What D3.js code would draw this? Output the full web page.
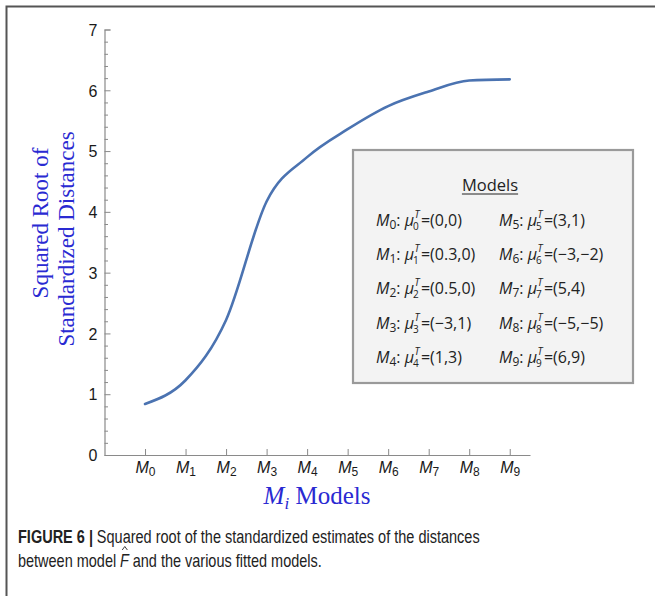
<!DOCTYPE html>
<html><head><meta charset="utf-8">
<script src="https://cdn.jsdelivr.net/npm/d3@7"></script>
<style>body{margin:0;background:#fff}svg{display:block}</style>
</head><body>
<svg id="c" width="655" height="596"></svg>
<script>
const categories = ["0","1","2","3","4","5","6","7","8","9"];
const values = [0.84, 1.23, 2.22, 4.17, 4.9, 5.36, 5.74, 5.98, 6.16, 6.18];
const yTicks = [0,1,2,3,4,5,6,7];
const legendLeft = [["0","(0,0)"],["1","(0.3,0)"],["2","(0.5,0)"],["3","(\u22123,1)"],["4","(1,3)"]];
const legendRight = [["5","(3,1)"],["6","(\u22123,\u22122)"],["7","(5,4)"],["8","(\u22125,\u22125)"],["9","(6,9)"]];

const svg = d3.select("#c");
const blue = "#2a2ad2", axisCol = "#8a8a8a", lineCol = "#4b73b1";
const sans = "'Liberation Sans', Arial, sans-serif";
const serif = "'Liberation Serif', 'Times New Roman', serif";
const legFont = "'Open Sans', 'Noto Sans', sans-serif";

// frame
svg.append("path").attr("d","M6.5,596 L6.5,6.5 L655,6.5").attr("fill","none").attr("stroke","#555").attr("stroke-width",2);

const x = d3.scaleLinear().domain([-1, 9.5]).range([104.5, 530]);
const y = d3.scaleLinear().domain([0, 7]).range([455, 29.5]);

// y axis
const minor = d3.range(0, 7.001, 0.2).filter(v => Math.abs(v - Math.round(v)) > 1e-6);
const gym = svg.append("g").attr("transform","translate(104.5,0)");
gym.call(d3.axisLeft(y).tickValues(minor).tickSize(-3.5).tickFormat(""));
gym.select(".domain").remove();
gym.selectAll(".tick text").remove();
gym.selectAll(".tick line").attr("stroke",axisCol);
const gy = svg.append("g").attr("transform","translate(104.5,0)");
gy.call(d3.axisLeft(y).tickValues(yTicks).tickSize(-6).tickFormat(""));
gy.select(".domain").attr("stroke",axisCol).attr("stroke-width",1.2);
gy.selectAll(".tick line").attr("stroke",axisCol);
gy.selectAll(".tick text").remove();
gy.selectAll(".tick").append("text").attr("x",-7).attr("dy","0.36em").attr("text-anchor","end")
  .attr("font-family",sans).attr("font-size",16).attr("fill","#1a1a1a").text(d=>d3.format("d")(d));

// x axis
const gx = svg.append("g").attr("transform","translate(0,455)");
gx.call(d3.axisBottom(x).tickValues(d3.range(categories.length)).tickSize(-6).tickSizeOuter(0).tickFormat(""));
gx.select(".domain").attr("stroke",axisCol).attr("stroke-width",1.2);
gx.selectAll(".tick line").attr("stroke",axisCol);
gx.selectAll(".tick text").remove();
gx.selectAll(".tick").each(function(d){
  const t = d3.select(this).append("text").attr("text-anchor","middle").attr("font-family",sans).attr("fill","#1a1a1a").attr("y",18);
  t.append("tspan").attr("font-style","italic").attr("font-size",16).text("M");
  t.append("tspan").attr("font-size",12).attr("dy",3).text(categories[d]);
});

// line
const line = d3.line().x((d,i)=>x(i)).y(d=>y(d)).curve(d3.curveMonotoneX);
svg.append("path").datum(values).attr("d",line).attr("fill","none").attr("stroke",lineCol).attr("stroke-width",2.6).attr("stroke-linecap","round");

// y title
svg.append("text").attr("transform","translate(48,223) rotate(-90)").attr("text-anchor","middle")
  .attr("font-family",serif).attr("font-size",23).attr("fill",blue).text("Squared Root of");
svg.append("text").attr("transform","translate(73.5,239) rotate(-90)").attr("text-anchor","middle")
  .attr("font-family",serif).attr("font-size",23).attr("fill",blue).text("Standardized Distances");

// x title
const xt = svg.append("text").attr("x",317).attr("y",504).attr("text-anchor","middle").attr("font-family",serif).attr("font-size",25).attr("fill",blue);
xt.append("tspan").attr("font-style","italic").text("M");
xt.append("tspan").attr("font-style","italic").attr("font-size",17).attr("dy",5).text("i");
xt.append("tspan").attr("dy",-5).text("\u00A0Models");

// legend
svg.append("rect").attr("x",353).attr("y",150).attr("width",280).attr("height",233).attr("fill","#f3f3f3").attr("stroke","#9a9a9a").attr("stroke-width",2.2);
const hdr = svg.append("text").attr("x",490).attr("y",191).attr("text-anchor","middle").attr("font-family",legFont).attr("font-size",16.5).attr("fill","#222").text("Models");
const hw = hdr.node().getComputedTextLength();
svg.append("line").attr("x1",490-hw/2).attr("x2",490+hw/2).attr("y1",194).attr("y2",194).attr("stroke","#222").attr("stroke-width",1.2);

function legendItem(x0, yb, item){
  const g = svg.append("g");
  const t1 = g.append("text").attr("x",x0).attr("y",yb).attr("font-family",legFont).attr("font-size",16).attr("fill","#222");
  t1.append("tspan").attr("font-style","italic").text("M");
  t1.append("tspan").attr("font-size",12).attr("dy",3).text(item[0]);
  t1.append("tspan").attr("dy",-3).text(":\u00A0");
  t1.append("tspan").attr("font-style","italic").text("\u03BC");
  const w1 = t1.node().getComputedTextLength();
  g.append("text").attr("x",x0+w1+0.5).attr("y",yb-8).attr("font-family",legFont).attr("font-size",10).attr("font-style","italic").attr("fill","#222").text("T");
  g.append("text").attr("x",x0+w1-1).attr("y",yb+4).attr("font-family",legFont).attr("font-size",10).attr("fill","#222").text(item[0]);
  g.append("text").attr("x",x0+w1+7).attr("y",yb).attr("font-family",legFont).attr("font-size",16).attr("fill","#222").text("="+item[1]);
}
const rowsY = [226, 260, 294, 329, 363];
legendLeft.forEach((it,i)=>legendItem(376, rowsY[i], it));
legendRight.forEach((it,i)=>legendItem(499, rowsY[i], it));

// caption line 1
const cg1 = svg.append("g");
const b1 = cg1.append("text").attr("x",0).attr("y",543).attr("font-family",sans).attr("font-size",19).attr("font-weight","bold").attr("fill","#222").text("FIGURE 6 |");
const wb = b1.node().getComputedTextLength() + 5;
const r1 = cg1.append("text").attr("x",wb).attr("y",543).attr("font-family",sans).attr("font-size",19).attr("fill","#222").text("Squared root of the standardized estimates of the distances");
const wl1 = wb + r1.node().getComputedTextLength();
cg1.attr("transform",`translate(18,0) scale(${462/wl1},1)`);

// caption line 2
const cg = svg.append("g");
const p1 = cg.append("text").attr("x",0).attr("y",567).attr("font-family",sans).attr("font-size",19).attr("fill","#222").text("between model");
const w1 = p1.node().getComputedTextLength() + 5;
const pf = cg.append("text").attr("x",w1).attr("y",567).attr("font-family",sans).attr("font-size",19).attr("font-style","italic").attr("fill","#222").text("F");
const wf = pf.node().getComputedTextLength() + 5;
const p3 = cg.append("text").attr("x",w1+wf).attr("y",567).attr("font-family",sans).attr("font-size",19).attr("fill","#222").text("and the various fitted models.");
const wTot = w1 + wf + p3.node().getComputedTextLength();
cg.append("path").attr("d",`M${w1+2.8},550 L${w1+6.2},546.5 L${w1+9.6},550`).attr("fill","none").attr("stroke","#222").attr("stroke-width",1);
cg.attr("transform",`translate(18,0) scale(${304/wTot},1)`);
</script>
</body></html>
